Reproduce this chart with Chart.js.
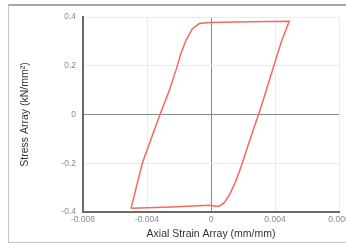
<!DOCTYPE html>
<html>
<head>
<meta charset="utf-8">
<script src="https://cdn.jsdelivr.net/npm/chart.js@4"></script>
<style>
  body { margin: 0; background: #fff; }
  #wrap { position: relative; width: 346px; height: 246px; }
  #frame {
    position: absolute; left: 8px; top: 4px; width: 345px; height: 236px;
    border: 1px solid #c4c4c4; border-top: 2px solid #a8a8a8;
  }
  canvas { position: absolute; left: 0; top: 0; }
</style>
</head>
<body>
<div id="wrap">
  <div id="frame"></div>
  <canvas id="chart" width="346" height="246"></canvas>
</div>
<script>
// hysteresis loop
const strain = [-0.005, -0.0025, -0.0001, 0.0003, 0.00052, 0.00083, 0.00114, 0.00146, 0.00177, 0.00208, 0.00239,
  0.00312, 0.00438, 0.00489,
  0.0025, -0.0001, -0.00073, -0.00115, -0.00156, -0.00188, -0.00219, -0.0026, -0.00323, -0.00428, -0.005];
const stress = [-0.385, -0.379, -0.372, -0.376, -0.376, -0.362, -0.331, -0.288, -0.235, -0.175, -0.112,
  0.029, 0.295, 0.383,
  0.381, 0.377, 0.373, 0.353, 0.305, 0.25, 0.182, 0.1, -0.007, -0.197, -0.385];

const xTicks = [-0.008, -0.004, 0, 0.004, 0.008];
const yTicks = [-0.4, -0.2, 0, 0.2, 0.4];

const points = strain.map((x, i) => ({ x: x, y: stress[i] }));

const tickFont = { family: 'Liberation Sans', size: 8.5 };
const titleFont = { family: 'Liberation Sans', size: 10.5 };
const gridColor = ctx => ctx.tick && ctx.tick.value === 0 ? '#8a8a8a' : '#ececec';

new Chart(document.getElementById('chart'), {
  type: 'scatter',
  data: {
    datasets: [{
      data: points,
      showLine: true,
      borderColor: '#f26b5e',
      borderWidth: 1.5,
      pointRadius: 0,
      tension: 0
    }]
  },
  options: {
    responsive: false,
    animation: false,
    layout: { padding: { left: 0, top: 17, right: 7, bottom: 0 } },
    plugins: { legend: { display: false }, tooltip: { enabled: false } },
    scales: {
      x: {
        type: 'linear', min: -0.008, max: 0.008,
        afterBuildTicks: s => { s.ticks = xTicks.map(v => ({ value: v })); },
        afterFit: s => { s.height = 34; s.paddingRight = 0; s.paddingLeft = 0; },
        border: { color: '#6a6a6a', width: 2 },
        grid: { color: gridColor, drawTicks: false },
        ticks: { font: tickFont, color: '#8a8a8a', padding: 3, maxRotation: 0,
          callback: v => v === 0 ? '0' : v.toFixed(3) },
        title: { display: true, text: 'Axial Strain Array (mm/mm)', font: titleFont, color: '#333',
          padding: { top: 0, bottom: 6 } }
      },
      y: {
        type: 'linear', min: -0.4, max: 0.4,
        afterBuildTicks: s => { s.ticks = yTicks.map(v => ({ value: v })); },
        afterFit: s => { s.width = 83; s.paddingTop = 0; s.paddingBottom = 0; },
        border: { color: '#6a6a6a', width: 2 },
        grid: { color: gridColor, drawTicks: false },
        ticks: { font: tickFont, color: '#8a8a8a', padding: 7,
          callback: v => v === 0 ? '0' : v.toFixed(1) },
        title: { display: true, text: 'Stress Array (kN/mm²)', font: titleFont, color: '#333',
          padding: { top: 19, bottom: 0 } }
      }
    }
  }
});
</script>
</body>
</html>
